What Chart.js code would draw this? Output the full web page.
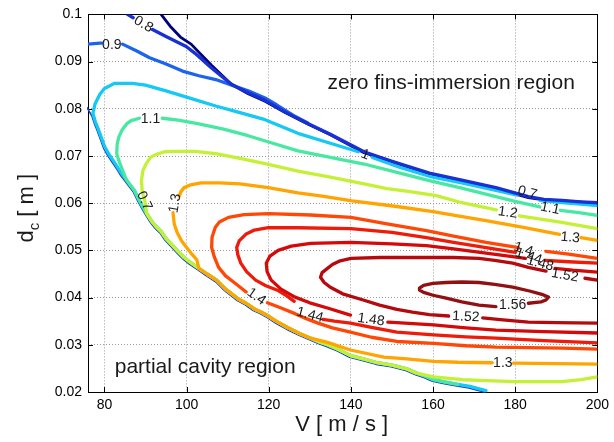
<!DOCTYPE html>
<html><head><meta charset="utf-8">
<script src="https://cdn.jsdelivr.net/npm/chart.js@4.4.1/dist/chart.umd.min.js"></script>
<style>html,body{margin:0;padding:0;background:#fff;}canvas{display:block}</style>
</head><body>
<canvas id="c" width="614" height="442"></canvas>
<script>
// ---------- axis ticks ----------
const xTicks = [80, 100, 120, 140, 160, 180, 200];
const xTickLabels = ['80', '100', '120', '140', '160', '180', '200'];
const yTicks = [0.02, 0.03, 0.04, 0.05, 0.06, 0.07, 0.08, 0.09, 0.1];
const yTickLabels = ['0.02', '0.03', '0.04', '0.05', '0.06', '0.07', '0.08', '0.09', '0.1'];

// ---------- contour lines: [V (m/s), d_c (m)], null = label gap ----------
// lower (partial cavity) boundary
const boundary = [[76,0.0806],[76.6,0.0797],[77.2,0.0788],[77.8,0.0772],[78.5,0.0757],[79.3,0.0738],[80.1,0.0719],[81.2,0.0702],[82.3,0.0688],[83.3,0.0675],[84.3,0.0661],[85.3,0.0650],[86.3,0.0638],[87.3,0.0627],[88.3,0.0609],[89.3,0.0593],[90.3,0.0578],[91.4,0.0563],[92.6,0.0550],[93.8,0.0540],[95,0.0525],[96.5,0.0511],[98,0.0497],[99.4,0.0485],[101,0.0474],[103,0.0462],[105,0.0450],[107.3,0.0437],[109.5,0.0418],[112.6,0.0397],[114.5,0.0388],[116.5,0.0376],[118,0.0370],[119.9,0.0361],[122,0.0349],[124.7,0.0336],[127.5,0.0324],[130.2,0.0314],[132.3,0.0306],[134.3,0.0300],[137,0.0290],[139.9,0.0277],[143,0.0270],[146.4,0.0262],[150,0.0257],[153.6,0.0249],[156,0.0240],[158,0.0234],[160.1,0.0226],[163,0.0221],[166,0.0216],[169,0.0212],[171,0.0207],[172.9,0.0203]];

const c070 = [[93.8,0.1],[96,0.0975],[98.5,0.0952],[101.1,0.0937],[106,0.0893],[110.9,0.0852],[115,0.0832],[119.1,0.0816],[124,0.0792],[129.5,0.0768],[135,0.0745],[143.2,0.0707],[150,0.0688],[159.1,0.0662],[167,0.0647],[175.3,0.0631],[183.2,0.0612],[187,0.0607],[191.4,0.0605],[196,0.0602],[200,0.0599]];

const c080 = [[85.6,0.1],[87,0.0993],null,[91.7,0.0968],[95,0.0953],[99.9,0.0932],[102,0.0918],[106,0.0887],[110.9,0.0852],[115,0.0834],[119.1,0.0818],[124,0.0793],[129.5,0.0769],[135,0.0746],[143.2,0.0709],[150,0.0689],[159.1,0.0664],[167,0.0649],[175.3,0.0633],[183.2,0.0614],[187,0.0608],[191.4,0.0606],[196,0.0603],[200,0.0601]];

const c090 = [[76,0.0937],[78.9,0.0939],[79.3,0.0939],null,[84.4,0.0937],[88,0.0922],[91,0.0908],[95,0.0895],[99,0.0880],[103,0.0870],[107.1,0.0862],[111,0.0850],[115,0.0838],[119.1,0.0823],[122,0.0808],[126,0.0786],[129.5,0.0770]];

const c100 = [[200,0.0595],[196,0.0598],[191.4,0.0601],[186,0.0606],null,[180.5,0.0617],[175.3,0.0627],[167,0.0643],[159.1,0.0657],[152,0.0676],[145.2,0.0697],null,[141.8,0.0709],[135,0.0727],[127.1,0.0748],[119.1,0.0777],[113,0.0792],[107.1,0.0806],[101,0.0822],[95,0.0838],[90,0.0850],[86.8,0.0854],[82.5,0.0854],[80,0.0843],[78.9,0.0831],[77.7,0.0810],[77.2,0.0790]];

const c110 = [[200,0.0574],[195.5,0.0580],[191,0.0585],null,[186,0.0592],[180,0.0604],[175.3,0.0614],[167,0.0632],[159.1,0.0648],[151,0.0666],[143.2,0.0683],[135,0.0697],[127.1,0.0711],[121,0.0727],[115,0.0743],[109,0.0757],[103,0.0768],[98,0.0776],[94.1,0.0780],null,[88.5,0.0780],[86.5,0.0775],[85.4,0.0768],[84.3,0.0755],[83.5,0.0740],[83.1,0.0725],[83,0.0705],[83.5,0.0690],[84.2,0.0675]];

const c120 = [[200,0.0546],[191,0.0560],[181,0.0573],null,[175.4,0.0586],[167,0.0601],[160.8,0.0616],[154,0.0625],[148.8,0.0631],[143.2,0.0641],[135,0.0655],[127.1,0.0668],[119.1,0.0684],[113,0.0695],[107.1,0.0705],[102,0.0710],[97.4,0.0710],[94.6,0.0709],[92.5,0.0703],[91.2,0.0697],[90.2,0.0684],[89.4,0.0670],[89,0.0648],[89.2,0.0625],[89.8,0.0606]];
const c120Bottom = [[160.1,0.0232],[167.3,0.0226],[173,0.0224],[180.1,0.0222],[191.4,0.0222],[196,0.0226],[200,0.0232]];

const c130 = [[200,0.0521],[196,0.0527],null,[190.8,0.0534],[182,0.0549],[172.9,0.0563],[166,0.0573],[160,0.0582],[151.2,0.0593],[140.3,0.0605],[133,0.0615],[127.1,0.0622],[119.9,0.0633],[113,0.0641],[108,0.0643],[103.5,0.0643],[101,0.0639],[99.4,0.0633],[98.6,0.0624],[98.2,0.0615],null,[96.7,0.0580],[97,0.0556],[97.7,0.0538],[98.8,0.0520],[100,0.0506],[101.3,0.0492],[102.5,0.0480]];
const c130Bottom = [[134.3,0.0305],[139.9,0.0289],[148,0.0274],[153.6,0.0270],[160.1,0.0265],[166,0.0263],[174.4,0.0262],null,[179.6,0.0261],[190,0.0260],[200,0.0259]];

const c140 = [[200,0.0483],[193,0.0492],[187.5,0.0498],null,[180.8,0.0506],[172.9,0.0517],[165,0.0530],[158.4,0.0542],[148.8,0.0556],[140,0.0570],[130.2,0.0575],[119.9,0.0578],[114,0.0576],[110.2,0.0570],[108,0.0560],[107,0.0549],[106.2,0.0528],[106.1,0.0506],[106.8,0.0485],[107.8,0.0464],[109.5,0.0446],[111.9,0.0430],[114.5,0.0412],null,[119.7,0.0389],[123,0.0378],[126.4,0.0366],[129,0.0356],[132,0.0346],[135.5,0.0336],[139.9,0.0327],[145,0.0316],[151.2,0.0307],[160.1,0.0303],[168,0.0298],[175.3,0.0295],[183,0.0294],[191.4,0.0293],[200,0.0291]];

const c144 = [[200,0.0473],[193,0.0476],[187.3,0.0479],null,[180.1,0.0496],[172.9,0.0506],[165,0.0517],[158.4,0.0527],[150,0.0538],[140,0.0546],[127,0.0548],[119.9,0.0548],[116.5,0.0543],[114.4,0.0534],[112.8,0.0520],[112.2,0.0506],[112.5,0.0490],[113.2,0.0473],[114.6,0.0455],[116.8,0.0437],[119.3,0.0425],[122.3,0.0415],[124.5,0.0403],[126.2,0.0392],null,[133.2,0.0354],[136,0.0350],[139.9,0.0346],[145,0.0337],[151.2,0.0327],[160.1,0.0321],[168,0.0317],[175.3,0.0314],[187,0.0309],[200,0.0304]];

const c148 = [[200,0.0454],[194,0.0458],[189.7,0.0462],null,[182.5,0.0483],[172.9,0.0494],[165,0.0503],[158.4,0.0510],[150,0.0514],[140,0.0517],[130.2,0.0515],[125.5,0.0509],[122.3,0.0500],[120.3,0.0488],[119.4,0.0473],[119.6,0.0455],[120.6,0.0437],[123,0.0418],[126.4,0.0401],[130,0.0389],[134.3,0.0378],[139.9,0.0363],null,[149,0.0348],[151.2,0.0347],[160.1,0.0342],[168,0.0336],[175.3,0.0331],[187,0.0328],[200,0.0325]];

const c152 = [[200,0.0437],[197,0.0441],null,[187.5,0.0456],[183.2,0.0464],[179.4,0.0473],[175,0.0479],[171.2,0.0483],[165,0.0485],[158.4,0.0485],[147.1,0.0485],[140,0.0483],[137.4,0.0478],[135.5,0.0470],[134.3,0.0462],[133,0.0453],[132.6,0.0443],[133.5,0.0432],[135,0.0422],[138,0.0408],[143,0.0395],[147,0.0384],[151.2,0.0375],[155,0.0369],[159.1,0.0364],[163.8,0.0361],null,[172.1,0.0357],[177,0.0353],[183.2,0.0348],[190,0.0347],[200,0.0346]];

const c156 = [[156.7,0.0420],[157.7,0.0426],[160,0.0430],[163.2,0.0432],[167,0.0433],[171.2,0.0432],[175,0.0428],[179.4,0.0422],[183.5,0.0414],[186.5,0.0407],[188.1,0.0401],[187.5,0.0395],[186.3,0.0391],[183.2,0.0388],null,[175.3,0.0381],[171.2,0.0384],[167,0.0391],[163.2,0.0399],[160,0.0405],[157.7,0.0411],[156.7,0.0416],[156.7,0.0420]];

// ---------- contour labels ----------
const labelText  = ['0.8','0.9','1.1','0.7','1.3','1','0.7','1.1','1.2','1.3','1.4','1.44','1.48','1.52','1.56','1.52','1.48','1.44','1.4','1.3'];
const labelV     = [89.5, 81.8, 91.2, 89.7, 97.2, 143.5, 183, 188.5, 178.2, 193.4, 182, 183.3, 186.1, 192.1, 179.4, 168, 144.9, 130, 117, 177];
const labelD     = [0.0979,0.0935,0.0778,0.0605,0.0600,0.0703,0.0622,0.0589,0.0580,0.0527,0.0502,0.0487,0.0472,0.0447,0.0384,0.0359,0.0353,0.0363,0.0402,0.0262];
const labelAngle = [30, 0, 0, 65, -80, 20, 15, 12, 8, 5, 18, 18, 15, 10, 0, 3, 8, 15, 35, 0];

// ---------- region annotations ----------
const regionText = ['zero fins-immersion region', 'partial cavity region'];
const regionV = [134.3, 82.5];
const regionD = [0.0842, 0.0240];

// ---------- helpers ----------
const FONT = '"Liberation Sans", Arial, Helvetica, sans-serif';
const pts = arr => arr.map(p => p ? {x: p[0], y: p[1]} : {x: null, y: null});
const edge = (a, b) => boundary.filter(p => p[0] >= a && p[0] <= b);

function line(data, color, width, order, shift) {
  return {
    data: pts(data), borderColor: color, backgroundColor: color, borderWidth: width,
    pointRadius: 0, pointHoverRadius: 0, showLine: true, fill: false, tension: 0,
    spanGaps: false, borderJoinStyle: 'round', borderCapStyle: 'round', order: order,
    shift: shift || null
  };
}

const W = 3.3;
const datasets = [
  line(boundary, '#1d3fbf', 1.6, 20, [-1, 1.6]),
  line(c070, '#00007a', 2.8, 19),
  line(c100.concat(edge(77.8, 173)), '#16c8f4', W, 18),
  line(c090, '#1c64ec', W, 17),
  line(c080, '#1830d4', W, 16),
  line(c110.concat(edge(85, 166)), '#48e8a2', W, 15),
  line(c120.concat(edge(90.3, 156)).concat(c120Bottom), '#c4f036', W, 14),
  line(c130.concat(edge(103, 130.3)).concat(c130Bottom), '#ffa400', W, 13),
  line(c140, '#ff4806', W, 12),
  line(c144, '#ee1a0a', W, 11),
  line(c148, '#d40a0a', W, 10),
  line(c152, '#b50a0d', W, 9),
  line(c156, '#911012', W, 8)
];

const shiftPlugin = {
  id: 'shift',
  beforeDatasetDraw(chart, args) {
    const ds = chart.data.datasets[args.index];
    if (ds.shift) { chart.ctx.save(); chart.ctx.translate(ds.shift[0], ds.shift[1]); }
  },
  afterDatasetDraw(chart, args) {
    const ds = chart.data.datasets[args.index];
    if (ds.shift) chart.ctx.restore();
  }
};

const framePlugin = {
  id: 'frame',
  beforeDatasetsDraw(chart) {
    const {ctx, chartArea: a, scales: {x, y}} = chart;
    ctx.save();
    ctx.strokeStyle = '#000'; ctx.lineWidth = 1;
    ctx.strokeRect(Math.round(a.left) + 0.5, Math.round(a.top) + 0.5,
                   Math.round(a.right - a.left), Math.round(a.bottom - a.top));
    ctx.beginPath();
    const t = 5;
    xTicks.forEach(v => {
      const px = Math.round(x.getPixelForValue(v)) + 0.5;
      ctx.moveTo(px, a.bottom); ctx.lineTo(px, a.bottom - t);
      ctx.moveTo(px, a.top); ctx.lineTo(px, a.top + t);
    });
    yTicks.forEach(v => {
      const py = Math.round(y.getPixelForValue(v)) + 0.5;
      ctx.moveTo(a.left, py); ctx.lineTo(a.left + t, py);
      ctx.moveTo(a.right, py); ctx.lineTo(a.right - t, py);
    });
    ctx.stroke();
    ctx.restore();
  },
  afterDatasetsDraw(chart) {
    const {ctx, chartArea: a, scales: {x, y}} = chart;
    ctx.save();
    // contour labels
    ctx.fillStyle = '#1a1a1a';
    ctx.font = '14px ' + FONT;
    ctx.textAlign = 'center'; ctx.textBaseline = 'middle';
    labelText.forEach((t, i) => {
      ctx.save();
      ctx.translate(x.getPixelForValue(labelV[i]), y.getPixelForValue(labelD[i]));
      ctx.rotate(labelAngle[i] * Math.PI / 180);
      ctx.fillText(t, 0, 0);
      ctx.restore();
    });
    // region annotations
    ctx.font = '21px ' + FONT;
    ctx.textAlign = 'left'; ctx.textBaseline = 'alphabetic';
    regionText.forEach((t, i) => {
      ctx.fillText(t, x.getPixelForValue(regionV[i]), y.getPixelForValue(regionD[i]));
    });
    // axis titles
    ctx.font = '22px ' + FONT;
    ctx.textAlign = 'center';
    ctx.fillText('V [ m / s ]', (a.left + a.right) / 2 - 1, 431);
    ctx.translate(33, (a.top + a.bottom) / 2 + 5);
    ctx.rotate(-Math.PI / 2);
    ctx.textAlign = 'left';
    const big = '22px ' + FONT, small = '15px ' + FONT;
    ctx.font = big; const wd = ctx.measureText('d').width;
    ctx.font = small; const wc = ctx.measureText('c').width;
    ctx.font = big; const wr = ctx.measureText(' [ m ]').width;
    let sx = -(wd + wc + wr) / 2;
    ctx.fillText('d', sx, 0); sx += wd;
    ctx.font = small; ctx.fillText('c', sx, 6); sx += wc;
    ctx.font = big; ctx.fillText(' [ m ]', sx, 0);
    ctx.restore();
  }
};

new Chart(document.getElementById('c'), {
  type: 'scatter',
  data: { datasets },
  options: {
    responsive: false, animation: false, events: [],
    layout: { padding: { top: 13, right: 11, left: 0, bottom: 0 } },
    plugins: { legend: { display: false }, tooltip: { enabled: false }, title: { display: false } },
    scales: {
      x: {
        type: 'linear', min: 76, max: 200,
        afterBuildTicks: s => { s.ticks = xTicks.map(v => ({ value: v })); },
        afterFit: s => { s.height = 50; },
        ticks: { color: '#000', font: { family: FONT, size: 14 }, padding: 5, maxRotation: 0, autoSkip: false,
                 callback: (v, i) => xTickLabels[i] },
        grid: { color: '#9a9a9a', lineWidth: 1, drawTicks: false },
        border: { display: false, dash: [1, 2] }
      },
      y: {
        type: 'linear', min: 0.02, max: 0.1,
        afterBuildTicks: s => { s.ticks = yTicks.map(v => ({ value: v })); },
        afterFit: s => { s.width = 88; },
        ticks: { color: '#000', font: { family: FONT, size: 14 }, padding: 6, autoSkip: false,
                 callback: (v, i) => yTickLabels[i] },
        grid: { color: '#9a9a9a', lineWidth: 1, drawTicks: false },
        border: { display: false, dash: [1, 2] }
      }
    }
  },
  plugins: [shiftPlugin, framePlugin]
});
</script>
</body></html>
